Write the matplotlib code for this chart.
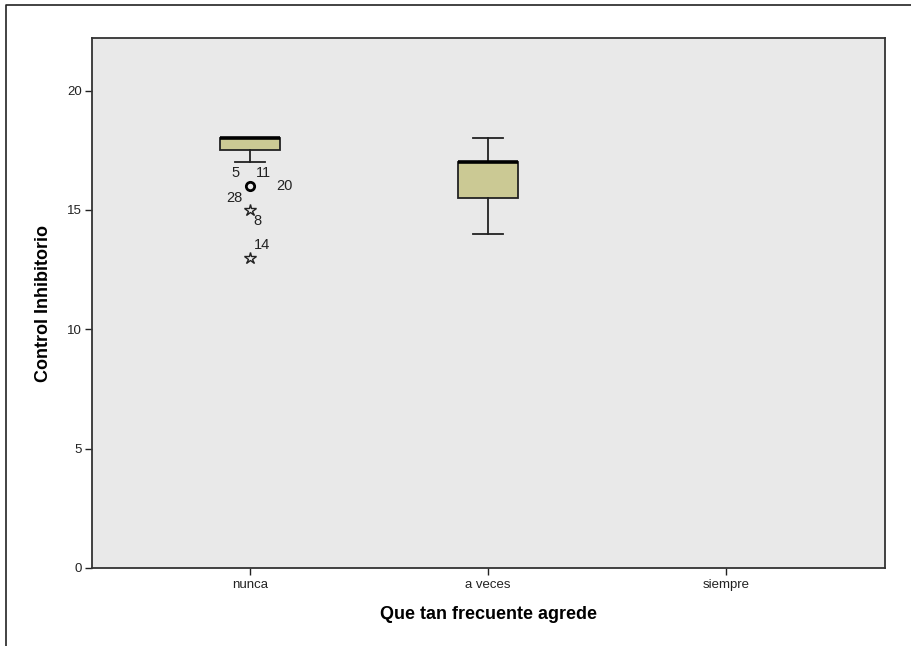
import matplotlib
matplotlib.use("Agg")
import matplotlib.pyplot as plt
from matplotlib.lines import Line2D

plt.rcParams['font.family'] = ['Liberation Sans', 'DejaVu Sans']

# groups on the x axis
categories = ['nunca', 'a veces', 'siempre']

# box summaries per group: (q1, median, q3, whisker low, whisker high)
box_stats = {
    'nunca': (17.5, 18.0, 18.0, 17.0, 18.0),
    'a veces': (15.5, 17.0, 17.0, 14.0, 18.0),
}

# outliers (value, case labels) and extremes
outliers_nunca = [(16.0, ['5', '11', '20', '28'])]
extremes_nunca = [(15.0, ['8']), (13.0, ['14'])]

y_ticks = [0, 5, 10, 15, 20]

fig = plt.figure(figsize=(9.11, 6.46), dpi=100)
ax = fig.add_axes([92 / 911, 1 - 568 / 646, 793 / 911, 530 / 646])
ax.set_facecolor('#E9E9E9')

box_color = '#CBC994'
stats = []
positions = []
for i, cat in enumerate(categories):
    if cat not in box_stats:
        continue
    q1, med, q3, lo, hi = box_stats[cat]
    stats.append({'q1': q1, 'med': med, 'q3': q3, 'whislo': lo, 'whishi': hi,
                  'fliers': [], 'label': cat})
    positions.append(i + 1)

ax.bxp(stats, positions=positions, widths=0.255, patch_artist=True,
       showfliers=False, capwidths=0.125,
       boxprops=dict(facecolor=box_color, edgecolor='#222222', linewidth=1.3),
       medianprops=dict(color='black', linewidth=2.6),
       whiskerprops=dict(color='#222222', linewidth=1.3),
       capprops=dict(color='#222222', linewidth=1.3))

# outliers as circles, extremes as stars
for val, labels in outliers_nunca:
    ax.plot(1, val, marker='o', markersize=6, markerfacecolor='none',
            markeredgecolor='black', markeredgewidth=2, zorder=5)
for val, labels in extremes_nunca:
    ax.plot(1, val, marker='*', markersize=9, markerfacecolor='none',
            markeredgecolor='#222222', markeredgewidth=1.0, zorder=5)

# case labels around the points
lbl_kw = dict(fontsize=10.5, color='#222222', va='center')
ax.text(0.92, 16.55, '5', ha='left', **lbl_kw)
ax.text(1.025, 16.55, '11', ha='left', **lbl_kw)
ax.text(1.11, 16.0, '20', ha='left', **lbl_kw)
ax.text(0.9, 15.5, '28', ha='left', **lbl_kw)
ax.text(1.015, 14.55, '8', ha='left', **lbl_kw)
ax.text(1.015, 13.55, '14', ha='left', **lbl_kw)

ax.set_xlim(0.336, 3.668)
ax.set_ylim(0, 22.2)
ax.set_xticks(range(1, len(categories) + 1))
ax.set_xticklabels(categories)
ax.set_yticks(y_ticks)
ax.tick_params(axis='both', labelsize=9.5, colors='#222222', length=5, width=1)
ax.tick_params(axis='x', pad=3)
ax.tick_params(axis='y', pad=2)

for side in ['left', 'bottom', 'top', 'right']:
    ax.spines[side].set_color('#333333')
    ax.spines[side].set_linewidth(1.3)

ax.set_xlabel('Que tan frecuente agrede', fontsize=13, fontweight='bold', labelpad=11)
ax.set_ylabel('Control Inhibitorio', fontsize=13, fontweight='bold', labelpad=11)

# outer frame lines along the left and top of the figure
fig.add_artist(Line2D([6 / 911, 6 / 911, 1], [0, 1 - 5 / 646, 1 - 5 / 646],
                      transform=fig.transFigure, color='#222222', linewidth=1.2))

fig.savefig('out.png', dpi=100)
